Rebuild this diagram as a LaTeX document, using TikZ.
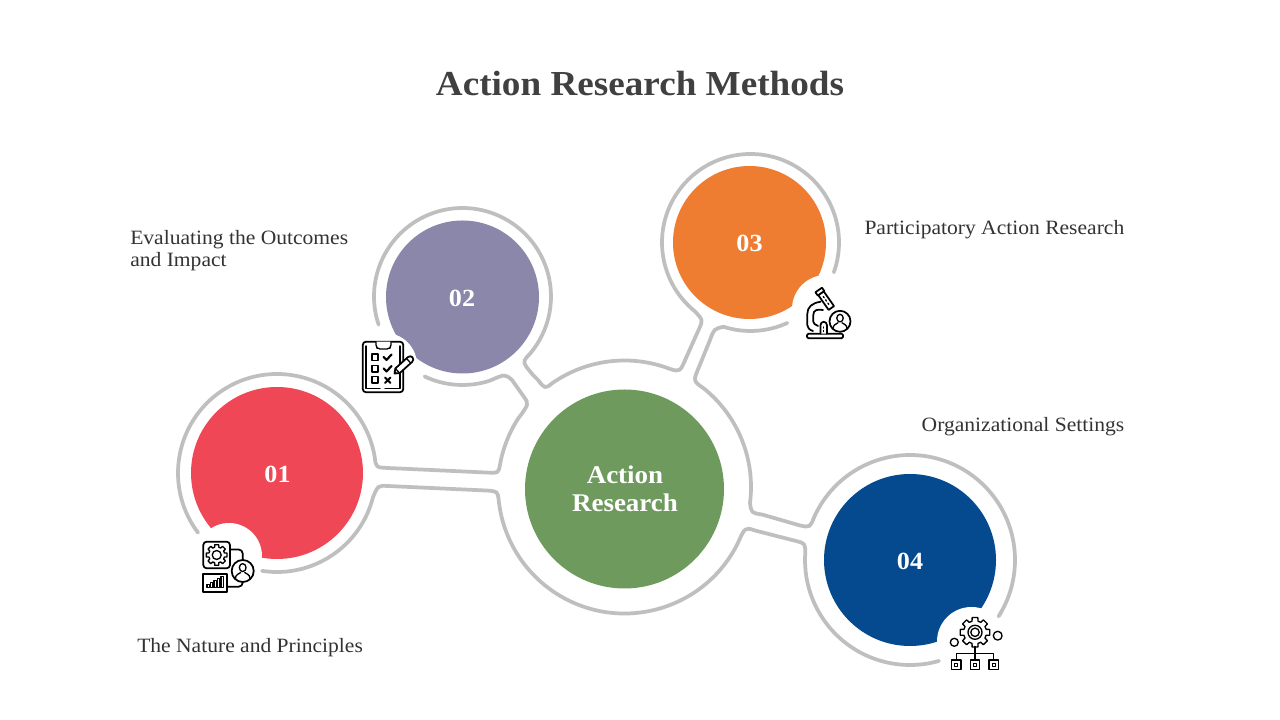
\documentclass[tikz,border=0pt]{standalone}
\usepackage{fontspec}
\setmainfont{Liberation Serif}
\newfontfamily\labelfont[FakeStretch=1.06]{Liberation Serif}
\newfontfamily\headfont[FakeStretch=1.06]{Liberation Serif Bold}
\definecolor{ringgray}{HTML}{BFBFBF}
\definecolor{redc}{HTML}{EF4755}
\definecolor{purplec}{HTML}{8B87AA}
\definecolor{orangec}{HTML}{EE7D31}
\definecolor{bluec}{HTML}{054A8F}
\definecolor{greenc}{HTML}{6E9A5E}
\definecolor{titlec}{HTML}{404040}
\definecolor{labelc}{HTML}{333333}
\tikzset{
  ringline/.style={draw=ringgray,line width=2.8pt,line cap=round,line join=round},
  disc/.style={circle,inner sep=0pt,minimum size=#1*.75pt},
  numtext/.style={text=white,font=\headfont\fontsize{18.5pt}{22pt}\selectfont,anchor=base,inner sep=0pt},
  maintext/.style={text=white,font=\headfont\fontsize{19.1pt}{22pt}\selectfont,anchor=base,inner sep=0pt},
  sidelabel/.style={text=labelc,font=\labelfont\fontsize{15.25pt}{17pt}\selectfont,inner sep=0pt},
  iconline/.style={draw=black,line width=1pt,line cap=round,line join=round},
  iconthick/.style={draw=black,line width=1.3pt,line cap=round,line join=round},
  notch/.style={fill=white,draw=none},
}
\newcommand\personmark[3]{%
  \begin{scope}[shift={(#1,#2)},scale=#3]
    \draw[iconthick,fill=white] (0,0) circle (10.5);
    \draw[iconline] (0,-3.2) ellipse (3.2 and 3.8);
    \draw[iconline] (-7,7.5) .. controls (-7,3) and (-3.5,3) .. (-2,1.5);
    \draw[iconline] (7,7.5) .. controls (7,3) and (3.5,3) .. (2,1.5);
  \end{scope}}
\newcommand\gearmark[5]{%
  \begin{scope}[shift={(#1,#2)}]
    \draw[iconline] (-11:#3) \foreach \k in {0,...,7}{ -- ({\k*45-11}:#3) -- ({\k*45+11}:#3) -- ({\k*45+15}:#4) -- ({\k*45+30}:#4)} -- cycle;
    \draw[iconline] (0,0) circle (#5);
  \end{scope}}
\begin{document}
\begin{tikzpicture}[x=.75pt,y=.75pt]
\useasboundingbox (0,0) rectangle (1280,720);
\fill[white] (0,0) rectangle (1280,720);

% ring centres
\coordinate (r0) at (624.5,720-487);
\coordinate (r1) at (277,720-473);
\coordinate (r2) at (462.5,720-296.5);
\coordinate (r3) at (750.5,720-242.5);
\coordinate (r4) at (910,720-560);

% outline
\draw[ringline] ([shift={(217.1:99)}]r1.center) arc[start angle=217.1,end angle=9.3,radius=99]
  .. controls (376,720-467.5) .. (388,720-468) -- (488,720-472.6)
  .. controls (498.5,720-473.2) .. ([shift={(169.3:126.5)}]r0.center) arc[start angle=169.3,end angle=147.6,radius=126.5]
  .. controls (529,720-404) .. (524,720-397) -- (512,720-380)
  .. controls (505,720-374) .. ([shift={(-71.9:88.5)}]r2.center) arc[start angle=-71.9,end angle=-115.4,radius=88.5];
\draw[ringline] ([shift={(198.6:88.5)}]r2.center) arc[start angle=198.6,end angle=-39.7,radius=88.5]
  .. controls (522,720-362) .. (533,720-375) -- (538,720-380)
  .. controls (545,720-389) .. ([shift={(124.7:126.5)}]r0.center) arc[start angle=124.7,end angle=69,radius=126.5]
  .. controls (680,720-372) .. (686,720-358) -- (699,720-329)
  .. controls (703,720-320) .. ([shift={(231:88.5)}]r3.center) arc[start angle=231,end angle=-19.7,radius=88.5];
\draw[ringline] ([shift={(-65.4:88.5)}]r3.center) arc[start angle=-65.4,end angle=-107.8,radius=88.5]
  .. controls (714,720-329) .. (710,720-340) -- (699,720-367)
  .. controls (693,720-381) .. ([shift={(51:126.5)}]r0.center) arc[start angle=51,end angle=-7.3,radius=126.5]
  .. controls (751.5,720-513) .. (762,720-514.5) -- (800,720-525.5)
  .. controls (810,720-527.5) .. ([shift={(156:105)}]r4.center) arc[start angle=156,end angle=-32.5,radius=105];
\draw[ringline] ([shift={(-74:105)}]r4.center) arc[start angle=-74,end angle=-182.7,radius=105]
  .. controls (805.5,720-543.5) .. (796,720-541) -- (755,720-530.5)
  .. controls (745,720-527) .. ([shift={(-26.8:126.5)}]r0.center) arc[start angle=-26.8,end angle=-174.2,radius=126.5]
  .. controls (497.5,720-491.5) .. (488,720-490.6) -- (388,720-486)
  .. controls (378,720-485.5) .. ([shift={(-14:99)}]r1.center) arc[start angle=-14,end angle=-98.7,radius=99];

% discs
\node[disc=172,fill=redc]    (n1) at (277,720-473) {};
\node[disc=153,fill=purplec] (n2) at (462.5,720-297) {};
\node[disc=153,fill=orangec] (n3) at (749.5,720-242.5) {};
\node[disc=172,fill=bluec]   (n4) at (910,720-560) {};
\node[disc=199,fill=greenc]  (n0) at (624.5,720-489) {};

% notches
\fill[notch] (229,720-556) circle (33);
\fill[notch] (385,720-365) circle (32);
\fill[notch] (826,720-309) circle (34);
\fill[notch] (971.5,720-641.5) circle (34.5);

% texts
\node[text=titlec,font=\headfont\fontsize{26.3pt}{30pt}\selectfont,anchor=base,inner sep=0pt] (title) at (640,720-96) {Action Research Methods};
\node[numtext] (t1) at (277.5,720-482.5) {01};
\node[numtext] (t2) at (462,720-306.5) {02};
\node[numtext] (t3) at (749.5,720-251.5) {03};
\node[numtext] (t4) at (910,720-569.5) {04};
\node[maintext] (t0a) at (625,720-483.5) {Action};
\node[maintext] (t0b) at (625,720-511.5) {Research};
\node[sidelabel,anchor=base west] (l2a) at (130,720-245) {Evaluating the Outcomes};
\node[sidelabel,anchor=base west] (l2b) at (130,720-267) {and Impact};
\node[sidelabel,anchor=base east] (l3) at (1124.5,720-235) {Participatory Action Research};
\node[sidelabel,anchor=base east] (l4) at (1124.5,720-432) {Organizational Settings};
\node[sidelabel,anchor=base west] (l1) at (137,720-653) {The Nature and Principles};

% icons, drawn in image pixels with y downwards
\begin{scope}[shift={(0,720)},yscale=-1]
  % icon 01
  \draw[iconthick,rounded corners=2.5] (203.3,541.7) rectangle (230,568.3);
  \gearmark{216.7}{555}{10.5}{8}{4.5}
  \draw[iconthick] (203.3,574.3) rectangle (227.3,591.7);
  \draw[iconthick,rounded corners=3] (230,549.5) -- (242.7,549.5) -- (242.7,560);
  \draw[iconthick,rounded corners=3] (227.3,586.7) -- (242.7,586.7) -- (242.7,582);
  \foreach \bx/\bh in {207/3,210.5/5,214/7,217.5/9,221/11}
    \draw[iconline] (\bx,587.5) rectangle (\bx+2.6,587.5-\bh);
  \personmark{242.7}{571}{1.05}

  % icon 02
  \draw[iconthick,fill=white,rounded corners=2.5] (362.7,341.7) rectangle (403.3,392.3);
  \draw[iconline,fill=white,rounded corners=1.5] (376,341.7) -- (376,347) -- (378,349) -- (389,349) -- (391,347) -- (391,341.7);
  \draw[iconline] (366,346) -- (366,388.5) -- (380,388.5);
  \draw[iconline] (385,388.5) -- (400,388.5) -- (400,346);
  \foreach \by in {354,365.5,376.5}
    \draw[iconthick] (371.7,\by) rectangle (378.3,\by+6.5);
  \draw[iconthick,line width=1.6pt] (383.5,357) -- (386.5,360) -- (391.5,354.5);
  \draw[iconthick,line width=1.6pt] (383.5,368.5) -- (386.5,371.5) -- (391.5,366);
  \draw[iconthick,line width=1.4pt] (385,377.5) -- (390.5,383) (390.5,377.5) -- (385,383);
  \begin{scope}[shift={(394.5,373.5)},rotate=-42]
    \draw[iconthick,fill=white] (0,0) -- (4,-3.2) -- (21,-3.2) arc[start angle=-90,end angle=90,radius=3.2] -- (4,3.2) -- cycle;
    \draw[iconline] (4,-3.2) -- (4,3.2) (19,-3.2) -- (19,3.2);
    \fill[black] (0,0) -- (2,-1.6) -- (2,1.6) -- cycle;
  \end{scope}

  % icon 03
  \draw[iconthick,fill=white,rounded corners=1] (807,333.7) rectangle (843,338.3);
  \draw[iconthick] (820.7,301.7) .. controls (812,303) and (807.3,307) .. (807.3,314) -- (807.3,325) .. controls (807.3,327) and (809,330) .. (813,331);
  \draw[iconthick] (823,310) .. controls (817,309) and (813.3,310) .. (813.3,315) -- (813.3,321.7) .. controls (813.3,323) and (815,325) .. (818,326);
  \draw[iconthick,fill=white] (820.5,333.7) -- (820.5,325) arc[start angle=180,end angle=360,radius=3.2] -- (826.9,333.7);
  \draw[iconline] (823.7,327) -- (823.7,328) (823.7,330.5) -- (823.7,331.5);
  \begin{scope}[shift={(825,299)},rotate=55]
    \draw[iconthick,fill=white] (-7,-3.3) rectangle (11,3.3);
    \draw[iconthick,fill=white] (-11,-4) rectangle (-7,4);
    \draw[iconline] (-3,0) -- (-1.5,0) (1,0) -- (2.5,0) (5,0) -- (6.5,0);
  \end{scope}
  \personmark{840}{321.3}{1}

  % icon 04
  \gearmark{975}{632.3}{15}{11.5}{7}
  \draw[iconline] (975,632.3) circle (4.2);
  \draw[iconline] (954.3,642.3) circle (4);
  \draw[iconline] (997.7,635.7) circle (4.4);
  \draw[iconline] (975,646.5) -- (975,660);
  \draw[iconline] (956.3,660) -- (956.3,653.3) -- (993.7,653.3) -- (993.7,660);
  \foreach \bx in {956.3,975,993.7}{
    \draw[iconline] (\bx-4.7,660) rectangle (\bx+4.7,669.3);
    \draw[iconline] (\bx-1.5,663.2) rectangle (\bx+1.5,666.2);
  }
\end{scope}
\end{tikzpicture}
\end{document}
